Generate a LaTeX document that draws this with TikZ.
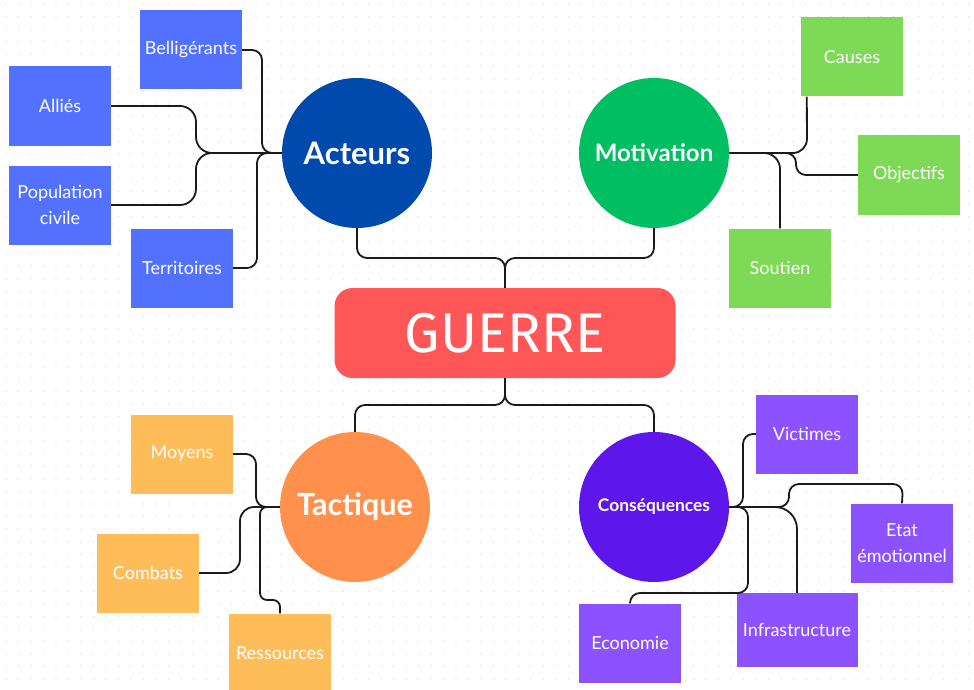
\documentclass[tikz,border=0pt]{standalone}
\usepackage{fontspec}
\setmainfont{Lato}
\newfontfamily\titlefont{Fira Sans}
\definecolor{guerrered}{HTML}{FF5757}
\definecolor{acteursblue}{HTML}{004AAD}
\definecolor{motivgreen}{HTML}{00BF63}
\definecolor{tactorange}{HTML}{FF914D}
\definecolor{conspurple}{HTML}{5E17EB}
\definecolor{leafblue}{HTML}{5271FF}
\definecolor{leafgreen}{HTML}{7ED957}
\definecolor{leaforange}{HTML}{FFBD59}
\definecolor{leafpurple}{HTML}{8C52FF}
\definecolor{dotgray}{HTML}{D8D8D8}
\definecolor{linkblack}{HTML}{1A1A1A}

\begin{document}
\begin{tikzpicture}[x=1pt,y=-1pt,
    leaf/.style={minimum width=102pt, minimum height=79pt, inner sep=0pt, text=white, align=center, font=\fontsize{18}{26}\selectfont},
    hub/.style={circle, minimum size=150pt, inner sep=0pt, text=white},
    link/.style={line width=1.8pt, draw=linkblack, rounded corners=10pt}]
\useasboundingbox (0,0) rectangle (974,690);
\fill[white] (0,0) rectangle (974,690);
% dotted paper
\foreach \i in {0,...,77} {
    \foreach \j in {0,...,55} {
        \fill[dotgray] (6+12.5*\i, 4+12.5*\j) circle (0.7pt);
    }
}

% centre and main ideas
\node[rounded corners=18pt, fill=guerrered, minimum width=341pt, minimum height=90pt, text=white, font=\titlefont\fontsize{56}{56}\selectfont] (guerre) at (505,333) {GUERRE};
\node[hub, fill=acteursblue, font=\bfseries\fontsize{31}{31}\selectfont] (acteurs) at (357,153) {Acteurs};
\node[hub, fill=motivgreen, font=\bfseries\fontsize{24}{24}\selectfont] (motiv) at (654,153) {Motivation};
\node[hub, fill=tactorange, font=\bfseries\fontsize{30.5}{31}\selectfont] (tact) at (355,507) {Tactique};
\node[hub, fill=conspurple, font=\bfseries\fontsize{17.4}{18}\selectfont] (cons) at (654,507) {Conséquences};

% acteurs
\node[leaf, fill=leafblue] (bell) at (191,50) {Belligérants};
\node[leaf, fill=leafblue] (allies) at (60,106) {Alliés};
\node[leaf, fill=leafblue] (popciv) at (60,205) {Population\\civile};
\node[leaf, fill=leafblue] (terr) at (182,268) {Territoires};

% motivation
\node[leaf, fill=leafgreen] (causes) at (852,57) {Causes};
\node[leaf, fill=leafgreen] (obj) at (909,175) {Objectifs};
\node[leaf, fill=leafgreen] (sout) at (780,268) {Soutien};

% tactique
\node[leaf, fill=leaforange] (moy) at (182,454) {Moyens};
\node[leaf, fill=leaforange] (comb) at (148,573) {Combats};
\node[leaf, fill=leaforange] (ress) at (280,653) {Ressources};

% consequences
\node[leaf, fill=leafpurple] (vict) at (807,434) {Victimes};
\node[leaf, fill=leafpurple] (etat) at (902,543) {Etat\\émotionnel};
\node[leaf, fill=leafpurple, minimum width=121pt, minimum height=74pt] (infra) at (797,630) {Infrastructure};
\node[leaf, fill=leafpurple] (eco) at (630,643) {Economie};

% links from the centre
\draw[link] (guerre.north) -- (505,258) -- (357,258) -- (acteurs.south);
\draw[link] (guerre.north) -- (505,258) -- (654,258) -- (motiv.south);
\draw[link] (guerre.south) -- (505,405) -- (355,405) -- (tact.north);
\draw[link] (guerre.south) -- (505,405) -- (654,405) -- (cons.north);

% links to the leaves
\draw[link] (bell.east) -- (262,50) -- (262,153) -- (acteurs.west);
\draw[link, rounded corners=16pt] (allies.east) -- (196,106) -- (196,153) -- (acteurs.west);
\draw[link, rounded corners=16pt] (popciv.east) -- (196,205) -- (196,153) -- (acteurs.west);
\draw[link] (terr.east) -- (257,268) -- (257,153) -- (acteurs.west);

\draw[link, rounded corners=14pt] ([xshift=6pt]causes.south west) -- (807,153) -- (motiv.east);
\draw[link] (obj.west) -- (796,175) -- (796,153) -- (motiv.east);
\draw[link, rounded corners=16pt] (sout.north) -- (780,153) -- (motiv.east);

\draw[link] (moy.east) -- (256,454) -- (256,507) -- (tact.west);
\draw[link, rounded corners=14pt] (comb.east) -- (240,573) -- (240,507) -- (tact.west);
\draw[link, rounded corners=7pt] (ress.north) -- (280,600) -- (260,600) -- (260,507) -- (tact.west);

\draw[link] (vict.west) -- (743,434) -- (743,507) -- (cons.east);
\draw[link] (etat.north) -- (903,484) -- (789,484) -- (789,507) -- (cons.east);
\draw[link, rounded corners=22pt] (infra.north) -- (797,507) -- (cons.east);
\draw[link] (eco.north) -- (630,593) -- (748,593) -- (748,507) -- (cons.east);
\end{tikzpicture}
\end{document}
